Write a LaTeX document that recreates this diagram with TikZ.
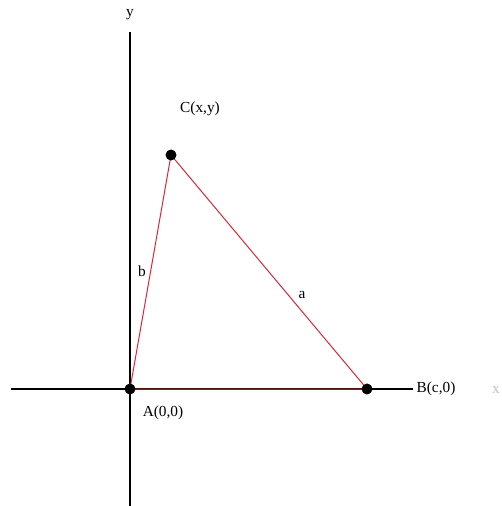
\documentclass[tikz,border=0pt]{standalone}
\usepackage{fontspec}
\setmainfont{Liberation Serif}
\begin{document}
\begin{tikzpicture}[x=0.75pt,y=-0.75pt,
  axis/.style={draw=black,line width=0.8pt},
  side/.style={draw={rgb,255:red,215;green,40;blue,55},line width=0.75pt},
  pt/.style={circle,fill=black,inner sep=0pt,minimum size=8pt},
  lbl/.style={font=\fontsize{11.5}{13}\selectfont,inner sep=1pt}]
\useasboundingbox (0,0) rectangle (501,506);
\coordinate (yt) at (130,32);
\coordinate (yb) at (130,506);
\coordinate (xl) at (11,389);
\coordinate (xr) at (413,389);
\draw[axis] (yt) -- (yb);
\draw[axis] (xl) -- (xr);
\node[pt] (A) at (130,389) {};
\node[pt] (B) at (367,389) {};
\node[pt] (C) at (171,155) {};
\draw[side] (A.center) -- (C.center) -- (B.center) -- (A.center);
\node[pt] at (A) {};
\node[pt] at (B) {};
\node[pt] at (C) {};
\node[lbl] (ylab) at (130,15) {y};
\node[lbl] (clab) at (200,109) {C(x,y)};
\node[lbl] (blab) at (436,389) {B(c,0)};
\node[lbl] (alab) at (163,413) {A(0,0)};
\node[lbl] (sb) at (142,271) {b};
\node[lbl] (sa) at (302,295) {a};
\node[lbl,text=black!25] (xlab) at (496,390) {x};
\end{tikzpicture}
\end{document}
